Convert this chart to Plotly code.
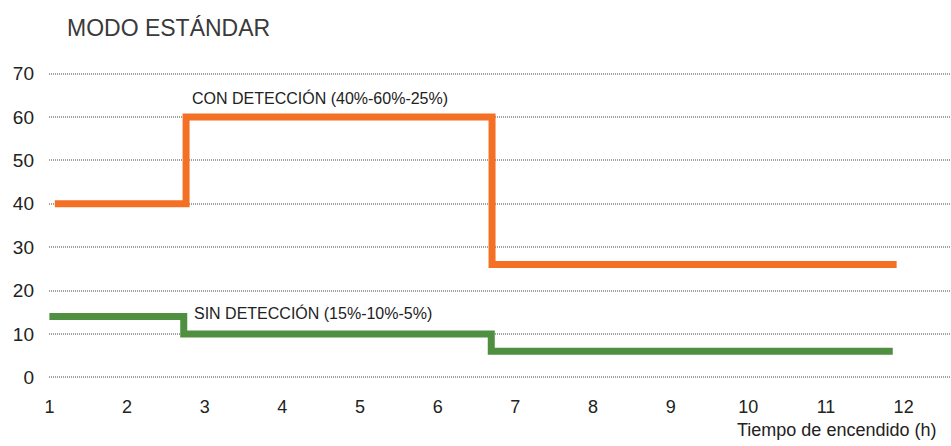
import plotly.graph_objects as go

# Data (hours on x, % on y)
orange_x = [1.07, 2.76, 6.70, 11.91]
orange_y = [40, 60, 26, 26]
green_x = [1.0, 2.73, 6.69, 11.86]
green_y = [14, 10, 6, 6]

x_ticks = list(range(1, 13))
y_ticks = [0, 10, 20, 30, 40, 50, 60, 70]

label_con = "CON DETECCIÓN (40%-60%-25%)"
label_sin = "SIN DETECCIÓN (15%-10%-5%)"
title_text = "MODO ESTÁNDAR"
x_title = "Tiempo de encendido (h)"

ORANGE = "#F37024"
GREEN = "#4E8F40"
FONT = "Liberation Sans, Arial, Helvetica, sans-serif"
TXT = "#222222"

fig = go.Figure()
fig.add_trace(go.Scatter(x=orange_x, y=orange_y, mode="lines", line_shape="hv",
                         line=dict(color=ORANGE, width=7), hoverinfo="skip"))
fig.add_trace(go.Scatter(x=green_x, y=green_y, mode="lines", line_shape="hv",
                         line=dict(color=GREEN, width=7), hoverinfo="skip"))

fig.add_annotation(x=orange_x[1] + 0.05, y=orange_y[1] + 4.4, text=label_con,
                   showarrow=False, xanchor="left", yanchor="middle",
                   font=dict(family=FONT, size=16, color=TXT))
fig.add_annotation(x=green_x[1] + 0.11, y=green_y[1] + 4.8, text=label_sin,
                   showarrow=False, xanchor="left", yanchor="middle",
                   font=dict(family=FONT, size=16, color=TXT))

fig.add_annotation(xref="paper", yref="paper", x=(938 - 49) / 902, y=-(430 - 386) / 321,
                   text=x_title, showarrow=False, xanchor="right", yanchor="middle",
                   font=dict(family=FONT, size=18, color=TXT))

fig.update_layout(
    width=951, height=446,
    margin=dict(l=49, r=0, t=65, b=60),
    paper_bgcolor="white", plot_bgcolor="white",
    showlegend=False,
    font=dict(family=FONT, color=TXT),
    title=dict(text=title_text, xref="container", yref="container",
               x=67 / 951, xanchor="left", y=1 - 28 / 446, yanchor="middle",
               font=dict(family=FONT, size=23, color="#3a3a3a")),
)
fig.update_xaxes(range=[0.995, 12.61], tickvals=x_ticks, showgrid=False,
                 zeroline=False, showline=False, ticks="",
                 ticklabelstandoff=8, tickfont=dict(size=18, color=TXT))
fig.update_yaxes(range=[-2, 72], tickvals=y_ticks, showgrid=True,
                 gridcolor="#a0a0a0", gridwidth=2, griddash="1px,1px",
                 zeroline=False, showline=False, ticks="",
                 ticklabelstandoff=14, tickfont=dict(size=19, color=TXT))

fig.write_html("out.html", config={"displayModeBar": False},
               post_script="document.body.style.margin='0';document.body.style.overflow='hidden';")
